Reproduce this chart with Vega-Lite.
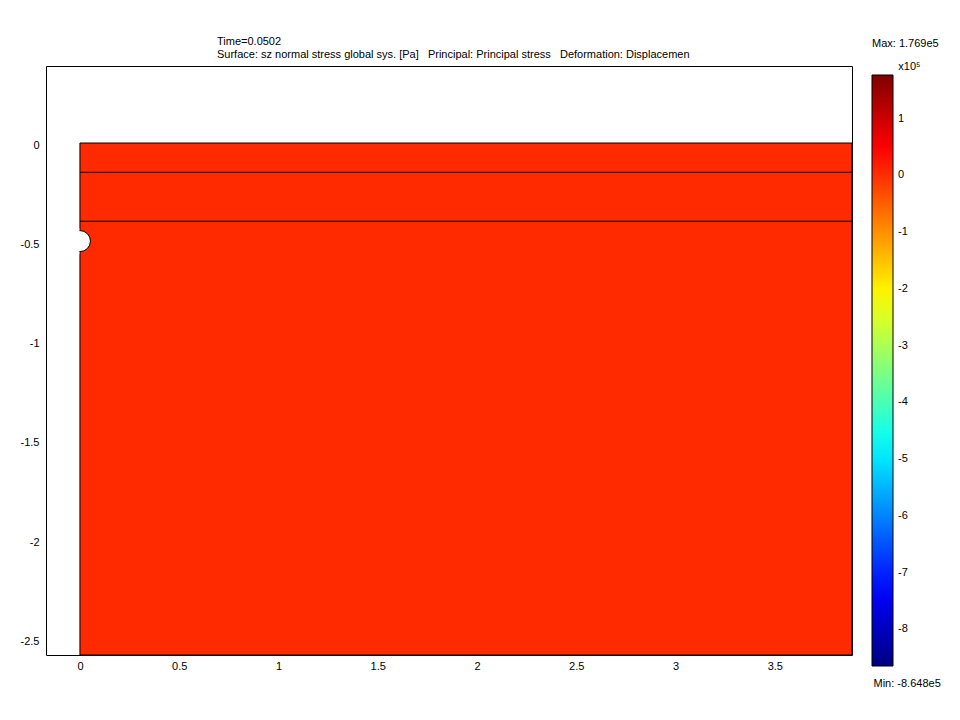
{
  "$schema": "https://vega.github.io/schema/vega-lite/v6.json",
  "autosize": "none",
  "width": 806,
  "height": 589,
  "padding": {"left": 46, "top": 66, "right": 108, "bottom": 65},
  "background": "white",
  "config": {
    "font": "Liberation Sans",
    "view": {"stroke": "black", "strokeWidth": 1},
    "locale": {"number": {"decimal": ".", "thousands": ",", "grouping": [3], "currency": ["$", ""], "minus": "-"}},
    "axis": {"labelFont": "Liberation Sans", "labelFontSize": 11, "labelColor": "black", "ticks": false, "domain": false, "grid": false},
    "legend": {"padding": 0}
  },
  "title": {
    "text": "Time=0.0502",
    "subtitle": "Surface: sz normal stress global sys. [Pa]\u00a0\u00a0\u00a0Principal: Principal stress\u00a0\u00a0\u00a0Deformation: Displacemen",
    "anchor": "start",
    "frame": "group",
    "dx": 171,
    "offset": -22,
    "font": "Liberation Sans",
    "fontSize": 11,
    "fontWeight": "normal",
    "color": "black",
    "subtitleFont": "Liberation Sans",
    "subtitleFontSize": 11,
    "subtitleColor": "black",
    "subtitlePadding": 2.5
  },
  "datasets": {
    "domain": [{"x0": 0, "x1": 3.889, "y0": -2.569, "y1": 0.01, "sz": 0.04}],
    "lines": [
      {"x0": 0, "x1": 3.889, "y": -0.1375},
      {"x0": 0, "x1": 3.889, "y": -0.384}
    ],
    "hole": [{"x": 0, "y": -0.484}],
    "cover": [{"x0": -0.07, "x1": -0.0028, "y0": -0.55, "y1": -0.42}]
  },
  "layer": [
    {
      "data": {"name": "domain"},
      "mark": {"type": "rect", "stroke": "black", "strokeWidth": 1},
      "encoding": {
        "x": {"field": "x0", "type": "quantitative",
              "scale": {"domain": [-0.171, 3.889], "nice": false, "zero": false},
              "axis": {"values": [0, 0.5, 1, 1.5, 2, 2.5, 3, 3.5], "format": "~g", "labelPadding": 5,
                       "title": "Min: -8.648e5", "titleX": 827, "titleY": 22, "titleAlign": "left", "titleBaseline": "top",
                       "titleFont": "Liberation Sans", "titleFontSize": 11, "titleFontWeight": "normal", "titleColor": "black"}},
        "x2": {"field": "x1"},
        "y": {"field": "y0", "type": "quantitative",
              "scale": {"domain": [-2.569, 0.398], "nice": false, "zero": false},
              "axis": {"values": [0, -0.5, -1, -1.5, -2, -2.5], "format": "~g", "labelPadding": 7,
                       "title": "x10\u2075", "titleAngle": 0, "titleX": 863, "titleY": 3, "titleBaseline": "alphabetic",
                       "titleFont": "Liberation Sans", "titleFontSize": 11, "titleFontWeight": "normal", "titleColor": "black"}},
        "y2": {"field": "y1"},
        "color": {
          "field": "sz", "type": "quantitative",
          "scale": {
            "type": "linear",
            "domain": [-8.648, -7.3459, -4.7416, -2.1373, 0.467, 1.769],
            "range": ["#000080", "#0000ff", "#00ffff", "#ffff00", "#ff0000", "#800000"],
            "interpolate": "rgb"
          },
          "legend": {
            "orient": "none",
            "legendX": 826,
            "legendY": -28,
            "direction": "vertical",
            "gradientLength": 591,
            "gradientThickness": 21,
            "gradientStrokeColor": "black",
            "gradientStrokeWidth": 1,
            "values": [1, 0, -1, -2, -3, -4, -5, -6, -7, -8],
            "format": "d",
            "labelOverlap": false,
            "labelFont": "Liberation Sans",
            "labelFontSize": 11,
            "labelColor": "black",
            "labelOffset": 5,
            "title": "Max: 1.769e5",
            "titleFont": "Liberation Sans",
            "titleFontSize": 11,
            "titleFontWeight": "normal",
            "titleColor": "black",
            "titlePadding": 26
          }
        }
      }
    },
    {
      "data": {"name": "lines"},
      "mark": {"type": "rule", "color": "black", "strokeWidth": 1},
      "encoding": {
        "x": {"field": "x0", "type": "quantitative"},
        "x2": {"field": "x1"},
        "y": {"field": "y", "type": "quantitative"}
      }
    },
    {
      "data": {"name": "hole"},
      "mark": {"type": "point", "shape": "circle", "filled": true, "fill": "white", "stroke": "black", "strokeWidth": 1, "opacity": 1, "size": 441},
      "encoding": {
        "x": {"field": "x", "type": "quantitative"},
        "y": {"field": "y", "type": "quantitative"}
      }
    },
    {
      "data": {"name": "cover"},
      "mark": {"type": "rect", "fill": "white", "strokeWidth": 0},
      "encoding": {
        "x": {"field": "x0", "type": "quantitative"},
        "x2": {"field": "x1"},
        "y": {"field": "y0", "type": "quantitative"},
        "y2": {"field": "y1"}
      }
    }
  ]
}
